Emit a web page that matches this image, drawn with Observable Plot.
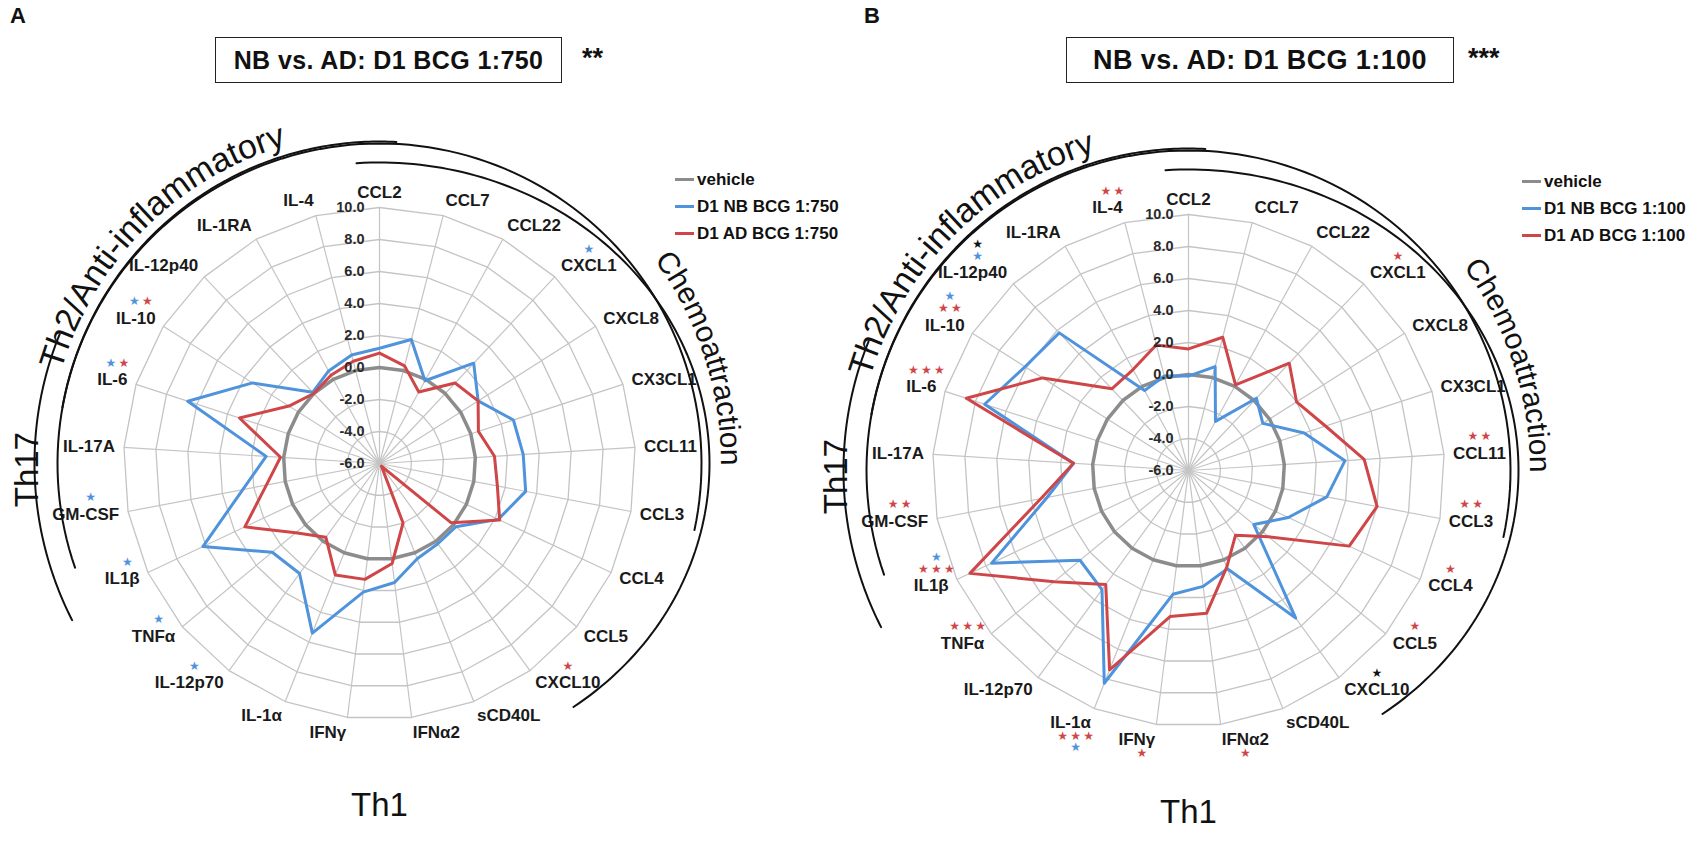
<!DOCTYPE html>
<html><head><meta charset="utf-8">
<script src="https://cdn.jsdelivr.net/npm/d3@7"></script>
<script src="https://cdn.jsdelivr.net/npm/@observablehq/plot@0.6"></script>
<style>
body{margin:0;background:#fff;font-family:"Liberation Sans",Arial,sans-serif;color:#111}
#fig{position:relative;width:1706px;height:841px;overflow:hidden;background:#fff}
.panel{position:absolute;top:0}
.letter{position:absolute;font-weight:bold;font-size:22px;top:3px}
.tbox{position:absolute;top:37px;height:46px;border:1.6px solid #222;box-sizing:border-box;font-weight:bold;display:flex;align-items:center;justify-content:center;letter-spacing:0.4px;white-space:nowrap}
.sig{position:absolute;top:43px;font-size:27px;font-weight:bold}
.legend{position:absolute;font-weight:bold;font-size:17px}
.legend div{height:27px;line-height:27px;white-space:nowrap}
.legend .sw{display:inline-block;width:19px;height:3px;vertical-align:middle;margin-right:3px;position:relative;top:-1px}
</style></head><body><div id="fig"></div>
<script>
// ---------- data ----------
const categories = ["CCL2","CCL7","CCL22","CXCL1","CXCL8","CX3CL1","CCL11","CCL3","CCL4","CCL5","CXCL10","sCD40L","IFNα2","IFNγ","IL-1α","IL-12p70","TNFα","IL1β","GM-CSF","IL-17A","IL-6","IL-10","IL-12p40","IL-1RA","IL-4"];
const ringTicks = [-6, -4, -2, 0, 2, 4, 6, 8, 10];
const ringTickLabels = ["-6.0","-4.0","-2.0","0.0","2.0","4.0","6.0","8.0","10.0"];
const vehicle = [0,0,0,0,0,0,0,0,0,0,0,0,0,0,0,0,0,0,0,0,0,0,0,0,0];
const nbA = [1.2, 2.0, -0.1, 2.6, 1.3, 2.8, 3.0, 3.3, 2.2, 0.2, 0.2, 0.4, 1.5, 2.1, 5.4, 2.5, 2.7, 6.2, 2.7, 1.1, 6.6, 3.4, 0.1, 0.6, 1.0];
const adA = [0.9, 0.3, -0.9, 0.9, 1.3, 0.5, 1.2, 1.5, 2.3, -0.2, -5.8, -2.0, 0.3, 1.3, 1.5, -0.3, 0.8, 3.3, 1.2, 0.2, 3.2, 0.7, 0.0, 0.3, 0.6];
const nbB = [-0.1, 0.7, -2.5, 0.2, -0.5, 1.6, 3.8, 2.8, 0.9, -0.7, 5.4, 0.6, 1.3, 1.8, 8.3, 3.2, 2.8, 7.6, 3.0, 1.2, 7.4, 6.1, 5.8, -0.3, 0.1];
const adB = [1.6, 2.6, 0.1, 3.2, 2.0, 3.0, 5.0, 6.0, 5.1, 0.5, -1.0, 0.5, 3.0, 3.2, 7.4, 2.8, 4.9, 9.1, 3.4, 1.2, 8.6, 4.8, 1.0, 1.2, 2.1];
const seriesNamesA = ["vehicle", "D1 NB BCG 1:750", "D1 AD BCG 1:750"];
const seriesNamesB = ["vehicle", "D1 NB BCG 1:100", "D1 AD BCG 1:100"];
const titleA = "NB vs. AD: D1 BCG 1:750", sigA = "**";
const titleB = "NB vs. AD: D1 BCG 1:100", sigB = "***";
const groupNames = ["Th2/Anti-inflammatory", "Chemoattraction", "Th17", "Th1"];
// significance marks: [category, row (+ above label, - below), groups]
const starsA = [
  ["CXCL1", 1, ["NB"]], ["IL-10", 1, ["NB","AD"]], ["IL-6", 1, ["NB","AD"]],
  ["GM-CSF", 1, ["NB"]], ["IL1β", 1, ["NB"]], ["TNFα", 1, ["NB"]],
  ["IL-12p70", 1, ["NB"]], ["CXCL10", 1, ["AD"]]
];
const starsB = [
  ["IL-4", 1, ["AD","AD"]], ["CXCL1", 1, ["AD"]],
  ["IL-12p40", 2, ["NBAD"]], ["IL-12p40", 1, ["NB"]],
  ["IL-10", 2, ["NB"]], ["IL-10", 1, ["AD","AD"]],
  ["IL-6", 1, ["AD","AD","AD"]], ["CCL11", 1, ["AD","AD"]], ["CCL3", 1, ["AD","AD"]],
  ["GM-CSF", 1, ["AD","AD"]], ["IL1β", 2, ["NB"]], ["IL1β", 1, ["AD","AD","AD"]],
  ["CCL4", 1, ["AD"]], ["TNFα", 1, ["AD","AD","AD"]], ["CCL5", 1, ["AD"]],
  ["CXCL10", 1, ["NBAD"]], ["IL-1α", -1, ["AD","AD","AD"]], ["IL-1α", -2, ["NB"]],
  ["IFNγ", -1, ["AD"]], ["IFNα2", -1, ["AD"]]
];

// ---------- styles ----------
const COL = {vehicle: "#8c8c8c", NB: "#4f93dc", AD: "#cf4649", NBAD: "#111"};
const FONT = '"Liberation Sans", Arial, sans-serif';
const W = 853, H = 841, K = 16; // px per value unit
const LABEL_PX = 17;
const ctx = document.createElement("canvas").getContext("2d");
const tw = (s, f) => { ctx.font = f; return ctx.measureText(s).width; };
const rad = d => d * Math.PI / 180;

function buildPanel(cfg) {
  const n = categories.length;
  const base = ringTicks[0];
  const R = ringTicks[ringTicks.length - 1] - base;
  const ang = i => i * 360 / n;
  const pol = (deg, r) => [r * Math.sin(rad(deg)), r * Math.cos(rad(deg))];

  const rings = ringTicks.slice(1).flatMap(v => d3.range(n + 1).map(i => {
    const [x, y] = pol(ang(i % n), v - base); return {ring: v, x, y};
  }));
  const spokes = categories.map((c, i) => {
    const [x2, y2] = pol(ang(i), R); return {x1: 0, y1: 0, x2, y2};
  });
  const series = (vals) => d3.range(n + 1).map(i => {
    const [x, y] = pol(ang(i % n), vals[i % n] - base); return {x, y};
  });

  const lf = `bold ${LABEL_PX}px ${FONT}`;
  const labels = categories.map((c, i) => {
    const a = ang(i), s = Math.sin(rad(a)), co = Math.cos(rad(a));
    const w = tw(c, lf);
    const rr = R + 9 / K;
    const anchor = s > 0.05 ? "start" : s < -0.05 ? "end" : "middle";
    const x = rr * s, y = rr * co + co * 6 / K;
    const xc = x + (anchor === "start" ? w / 2 : anchor === "end" ? -w / 2 : 0) / K;
    return {c, x, y, anchor, xc, s};
  });
  const rowOffset = {"2": 29, "1": 17, "-1": -14, "-2": -25};
  const starPts = cfg.stars.flatMap(([cat, row, groups]) => {
    const L = labels.find(l => l.c === cat);
    const shift = L.s < -0.05 ? 5 : 0;
    return groups.map((g, j) => ({
      x: L.xc + (shift + (j - (groups.length - 1) / 2) * 13) / K,
      y: L.y + rowOffset[row] / K,
      fill: COL[g]
    }));
  });
  const ringLab = ringTicks.map((v, i) => ({x: 0, y: v - base, t: ringTickLabels[i]}));

  const arcPts = (rx, ry, a0, a1) => d3.range(0, 121).map(t => {
    const a = rad(a0 + (a1 - a0) * t / 120);
    return {x: rx / K * Math.sin(a), y: ry / K * Math.cos(a)};
  });
  const at = (deg, px) => pol(deg, px / K);

  const plot = Plot.plot({
    width: W, height: H, margin: 0,
    x: {domain: [-cfg.cx / K, (W - cfg.cx) / K], range: [0, W], axis: null},
    y: {domain: [-(H - cfg.cy) / K, cfg.cy / K], range: [H, 0], axis: null},
    color: {type: "identity"},
    style: {fontFamily: FONT, background: "transparent", overflow: "visible"},
    marks: [
      Plot.link(spokes, {x1: "x1", y1: "y1", x2: "x2", y2: "y2", stroke: "#c4c4c4", strokeWidth: 1.2}),
      Plot.line(rings, {x: "x", y: "y", z: "ring", stroke: "#c4c4c4", strokeWidth: 1.3}),
      Plot.line(series(vehicle), {x: "x", y: "y", stroke: COL.vehicle, strokeWidth: 3.5}),
      Plot.line(series(cfg.nb), {x: "x", y: "y", stroke: COL.NB, strokeWidth: 3}),
      Plot.line(series(cfg.ad), {x: "x", y: "y", stroke: COL.AD, strokeWidth: 3}),
      Plot.text(ringLab, {x: "x", y: "y", text: "t", textAnchor: "end", dx: -15, fontSize: 14.5, fontWeight: "bold", fill: "#2a2a2a"}),
      ...["start", "middle", "end"].map(an => Plot.text(labels.filter(l => l.anchor === an),
        {x: "x", y: "y", text: "c", textAnchor: an, lineAnchor: "middle", fontSize: LABEL_PX, fontWeight: "bold", fill: "#1a1a1a"})),
      Plot.text(starPts, {x: "x", y: "y", text: () => "★", fill: "fill", fontSize: 12, fontFamily: "DejaVu Sans", lineAnchor: "middle"}),
      // group arcs
      Plot.line(arcPts(322, 322, -80, 3), {x: "x", y: "y", stroke: "#111", strokeWidth: 2}),
      Plot.line(arcPts(330, 301, -4, 144), {x: "x", y: "y", stroke: "#111", strokeWidth: 2}),
      Plot.line(arcPts(345, 345, -68, -117), {x: "x", y: "y", stroke: "#111", strokeWidth: 2}),
      Plot.line(arcPts(322, 320, -109, 102), {x: "x", y: "y", stroke: "#111", strokeWidth: 2}),
      Plot.text([groupNames[2]], {x: () => at(-91, 352)[0], y: () => at(-91, 352)[1], text: d => d, rotate: -90, fontSize: 33, fill: "#111"}),
      Plot.text([groupNames[3]], {x: () => at(180, 342)[0], y: () => at(180, 342)[1], text: d => d, fontSize: 33, fill: "#111"})
    ]
  });

  // curved group labels along arcs, positioned through the plot's own scales
  const X = plot.scale("x"), Y = plot.scale("y");
  const ox = X.apply(0), oy = Y.apply(0);
  const svg = d3.select(plot);
  const defs = svg.append("defs");
  const arcD = (r, a0, a1) => {
    const p = a => [ox + r * Math.sin(rad(a)), oy - r * Math.cos(rad(a))];
    const [x0, y0] = p(a0), [x1, y1] = p(a1);
    return `M${x0},${y0} A${r},${r} 0 ${a1 - a0 > 180 ? 1 : 0} 1 ${x1},${y1}`;
  };
  [[groupNames[0], 331, -95, 5, 34], [groupNames[1], 342, 24, 120, 30]].forEach(([t, r, a0, a1, fs], i) => {
    const id = `${cfg.id}-g${i}`;
    defs.append("path").attr("id", id).attr("d", arcD(r, a0, a1));
    svg.append("text").attr("font-size", fs).attr("fill", "#111").attr("font-family", FONT)
      .append("textPath").attr("href", "#" + id).attr("startOffset", "50%").attr("text-anchor", "middle").text(t);
  });
  return plot;
}

const fig = document.getElementById("fig");
function addPanel(left, cfg, o) {
  const wrap = document.createElement("div");
  wrap.className = "panel"; wrap.style.left = left + "px";
  wrap.appendChild(buildPanel(cfg));
  fig.appendChild(wrap);
  const L = document.createElement("div"); L.className = "letter"; L.style.left = o.letterX + "px"; L.textContent = o.letter; fig.appendChild(L);
  const b = document.createElement("div"); b.className = "tbox"; b.style.left = o.boxL + "px"; b.style.width = o.boxW + "px"; b.style.fontSize = o.titlePx + "px"; b.textContent = o.title; fig.appendChild(b);
  const s = document.createElement("div"); s.className = "sig"; s.style.left = o.sigX + "px"; s.textContent = o.sig; fig.appendChild(s);
  const lg = document.createElement("div"); lg.className = "legend"; lg.style.left = o.legL + "px"; lg.style.top = o.legT + "px";
  const cols = [COL.vehicle, COL.NB, COL.AD];
  o.names.forEach((nm, i) => {
    const row = document.createElement("div");
    const sw = document.createElement("span"); sw.className = "sw"; sw.style.background = cols[i];
    row.appendChild(sw); row.appendChild(document.createTextNode(nm)); lg.appendChild(row);
  });
  fig.appendChild(lg);
}
addPanel(0, {id: "A", cx: 379, cy: 463, nb: nbA, ad: adA, stars: starsA},
  {letter: "A", letterX: 10, title: titleA, titlePx: 25, sig: sigA, boxL: 215, boxW: 347, sigX: 582, names: seriesNamesA, legL: 675, legT: 166});
addPanel(853, {id: "B", cx: 335, cy: 470, nb: nbB, ad: adB, stars: starsB},
  {letter: "B", letterX: 864, title: titleB, titlePx: 27, sig: sigB, boxL: 1066, boxW: 388, sigX: 1468, names: seriesNamesB, legL: 1522, legT: 168});
</script>
</body></html>
